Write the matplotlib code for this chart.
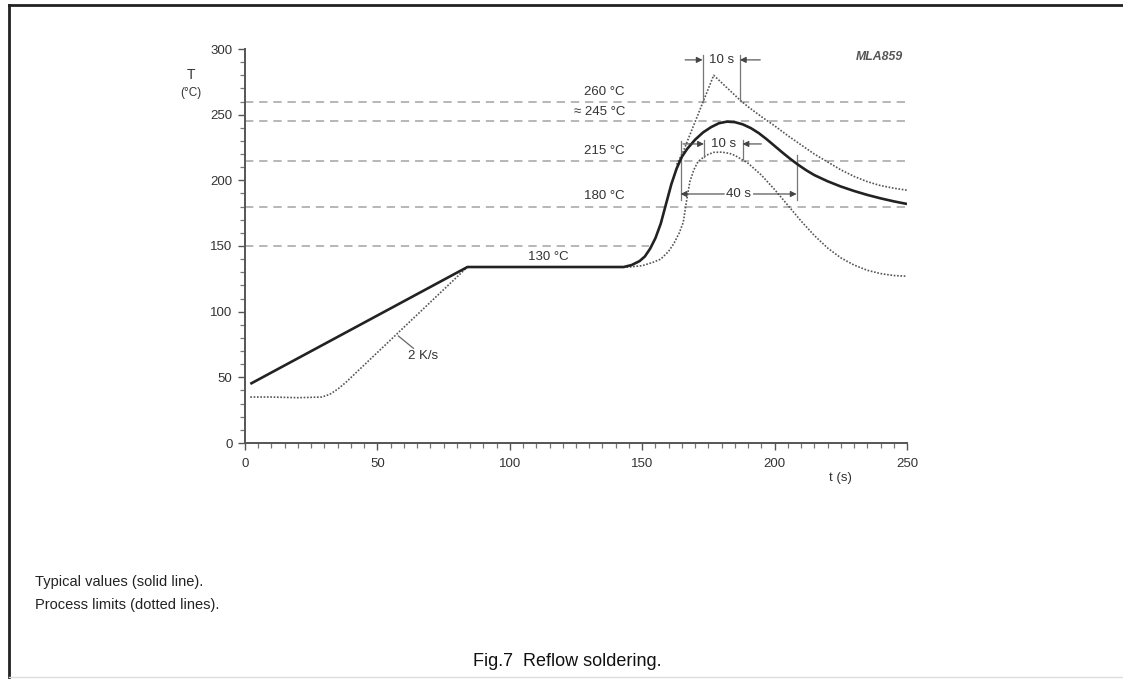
import matplotlib
matplotlib.use('Agg')
import matplotlib.pyplot as plt
from matplotlib.lines import Line2D
from matplotlib.ticker import MultipleLocator

plt.rcParams['font.family'] = ['Liberation Sans', 'DejaVu Sans']

# ---- data ----
solid_t = [2, 84, 143, 146, 149, 151, 153, 155, 157, 159, 161, 163, 165, 167, 170, 173,
           176, 179, 182, 185, 188, 191, 194, 197, 200, 203, 206, 209, 212, 215, 220,
           225, 230, 235, 240, 245, 250]
solid_T = [45, 134, 134, 135.5, 138.5, 142, 148, 156, 167, 182, 197, 209, 218, 224, 231,
           236.5, 240.5, 243.5, 244.7, 244.3, 242.6, 239.8, 236.0, 231.3, 226.2, 221.1,
           216.2, 211.7, 207.6, 204.0, 199.3, 195.3, 191.9, 188.9, 186.3, 184.0, 182.0]

upper_t = [163, 165.5, 177, 180, 183, 187, 190, 195, 200, 205, 210, 215, 220, 225, 230,
           235, 240, 245, 250]
upper_T = [212, 222, 280, 274.3, 268.6, 261, 256, 248.5, 241.5, 234, 227, 220, 214, 208,
           203, 199, 196, 194, 192.5]

lower_t = [2, 10, 20, 29, 32, 35, 38, 84, 145, 150, 154, 157, 160, 162, 164, 165.5, 166.8,
           168, 169.5, 171, 174, 177, 180, 183, 185, 190, 195, 200, 205, 210, 215, 220,
           225, 230, 235, 240, 245, 250]
lower_T = [35, 35, 34.5, 35, 37, 41, 46, 134, 134, 135, 137.5, 140, 146, 152, 160, 168, 185,
           199, 208, 214, 219, 221.3, 221.5, 220.5, 219, 213, 204, 193, 181, 169, 158, 148.5,
           141, 135.5, 131.5, 129, 127.5, 127]

ref_levels = [260, 245, 215, 180, 150]
ref_ends = [250, 250, 250, 250, 152.5]
ref_labels = ['260 °C', '≈ 245 °C', '215 °C', '180 °C']
ref_label_T = [267.6, 252.3, 222.6, 188.3]

x_ticks = [0, 50, 100, 150, 200, 250]
y_ticks = [0, 50, 100, 150, 200, 250, 300]

FS = 9.5
TXT = '#333333'

# ---- figure ----
fig = plt.figure(figsize=(11.23, 6.79), dpi=100)
ax = fig.add_axes([245 / 1123, 1 - 443 / 679, 662 / 1123, 394 / 679])
ax.set_xlim(0, 250)
ax.set_ylim(0, 300)

for s in ['top', 'right']:
    ax.spines[s].set_visible(False)
for s in ['left', 'bottom']:
    ax.spines[s].set_color('#555555')
    ax.spines[s].set_linewidth(1.4)

ax.set_xticks(x_ticks)
ax.set_yticks(y_ticks)
ax.xaxis.set_minor_locator(MultipleLocator(5))
ax.yaxis.set_minor_locator(MultipleLocator(10))
ax.tick_params(which='major', direction='out', length=5, width=1, color='#555555',
               labelsize=FS, labelcolor=TXT)
ax.tick_params(which='minor', direction='out', length=3.5, width=0.9, color='#777777')
ax.tick_params(axis='x', which='major', pad=5.5)
ax.tick_params(axis='y', which='major', pad=4)

# dashed reference levels
for lev, end in zip(ref_levels, ref_ends):
    ax.plot([0, end], [lev, lev], ls=(0, (5, 3.5)), color='#aaaaaa', lw=1.2, zorder=1)
for lab, ty in zip(ref_labels, ref_label_T):
    ax.text(143.5, ty, lab, ha='right', va='center', fontsize=FS, color=TXT)
ax.text(114.4, 141.7, '130 °C', ha='center', va='center', fontsize=FS, color=TXT)

# curves
ax.plot(lower_t, lower_T, ls=(0, (1, 1)), color='#555555', lw=1.2, zorder=2)
ax.plot(upper_t, upper_T, ls=(0, (1, 1)), color='#555555', lw=1.2, zorder=2)
ax.plot(solid_t, solid_T, color='#222222', lw=1.9, zorder=3, solid_capstyle='butt')

# 2 K/s annotation
ax.plot([57.9, 63.6], [81.5, 72.1], color='#666666', lw=0.9)
ax.text(61.6, 66.3, '2 K/s', ha='left', va='center', fontsize=FS, color=TXT)

acol = '#444444'
aprops = dict(arrowstyle='-|>', color=acol, lw=0.8, mutation_scale=9,
              shrinkA=0, shrinkB=0)

# top 10 s
ax.plot([172.8, 172.8], [259.5, 295.5], color='#777777', lw=0.9, clip_on=False)
ax.plot([186.9, 186.9], [260.5, 295.5], color='#777777', lw=0.9, clip_on=False)
ax.annotate('', xy=(172.8, 291.7), xytext=(166.2, 291.7), arrowprops=aprops,
            annotation_clip=False)
ax.annotate('', xy=(186.9, 291.7), xytext=(194.6, 291.7), arrowprops=aprops,
            annotation_clip=False)
ax.text(179.8, 291.7, '10 s', ha='center', va='center', fontsize=FS, color=TXT)

# middle 10 s
ax.plot([173.3, 173.3], [217.5, 231], color='#777777', lw=0.9)
ax.plot([187.9, 187.9], [216.5, 231], color='#777777', lw=0.9)
ax.annotate('', xy=(173.3, 227.7), xytext=(165.4, 227.7), arrowprops=aprops)
ax.annotate('', xy=(187.9, 227.7), xytext=(195.0, 227.7), arrowprops=aprops)
ax.text(180.6, 227.7, '10 s', ha='center', va='center', fontsize=FS, color=TXT)

# 40 s
ax.plot([164.5, 164.5], [185, 230], color='#777777', lw=0.9)
ax.plot([208.3, 208.3], [185, 219], color='#777777', lw=0.9)
ax.annotate('', xy=(164.5, 189.6), xytext=(181.0, 189.6), arrowprops=aprops)
ax.annotate('', xy=(208.3, 189.6), xytext=(192.0, 189.6), arrowprops=aprops)
ax.text(186.4, 189.6, '40 s', ha='center', va='center', fontsize=FS, color=TXT,
        bbox=dict(facecolor='white', edgecolor='none', pad=1))

# axis labels / ids
ax.text(-20.4, 280, 'T', ha='center', va='center', fontsize=10, color=TXT, clip_on=False)
ax.text(-20.4, 266.3, '(°C)', ha='center', va='center', fontsize=8.5, color=TXT,
        clip_on=False)
ax.text(224.7, -26.7, 't (s)', ha='center', va='center', fontsize=FS, color=TXT,
        clip_on=False)
ax.text(248.5, 294, 'MLA859', ha='right', va='center', fontsize=8.8, style='italic',
        fontweight='bold', color='#555555', clip_on=False)

# footnotes and caption
fig.text(35 / 1123, 1 - 582 / 679, 'Typical values (solid line).', fontsize=10.5,
         va='center', ha='left', color='#222222')
fig.text(35 / 1123, 1 - 605 / 679, 'Process limits (dotted lines).', fontsize=10.5,
         va='center', ha='left', color='#222222')
fig.text(567 / 1123, 1 - 661 / 679, 'Fig.7  Reflow soldering.', fontsize=13,
         va='center', ha='center', color='#111111')

# page frame
fig.add_artist(Line2D([8.5 / 1123, 8.5 / 1123], [0, 1 - 4.5 / 679],
                      transform=fig.transFigure, color='#222222', lw=2))
fig.add_artist(Line2D([8.5 / 1123, 1], [1 - 4.5 / 679, 1 - 4.5 / 679],
                      transform=fig.transFigure, color='#222222', lw=2))
fig.add_artist(Line2D([8.5 / 1123, 1], [2 / 679, 2 / 679],
                      transform=fig.transFigure, color='#dddddd', lw=1))

fig.savefig('out.png', dpi=100, facecolor='white')
